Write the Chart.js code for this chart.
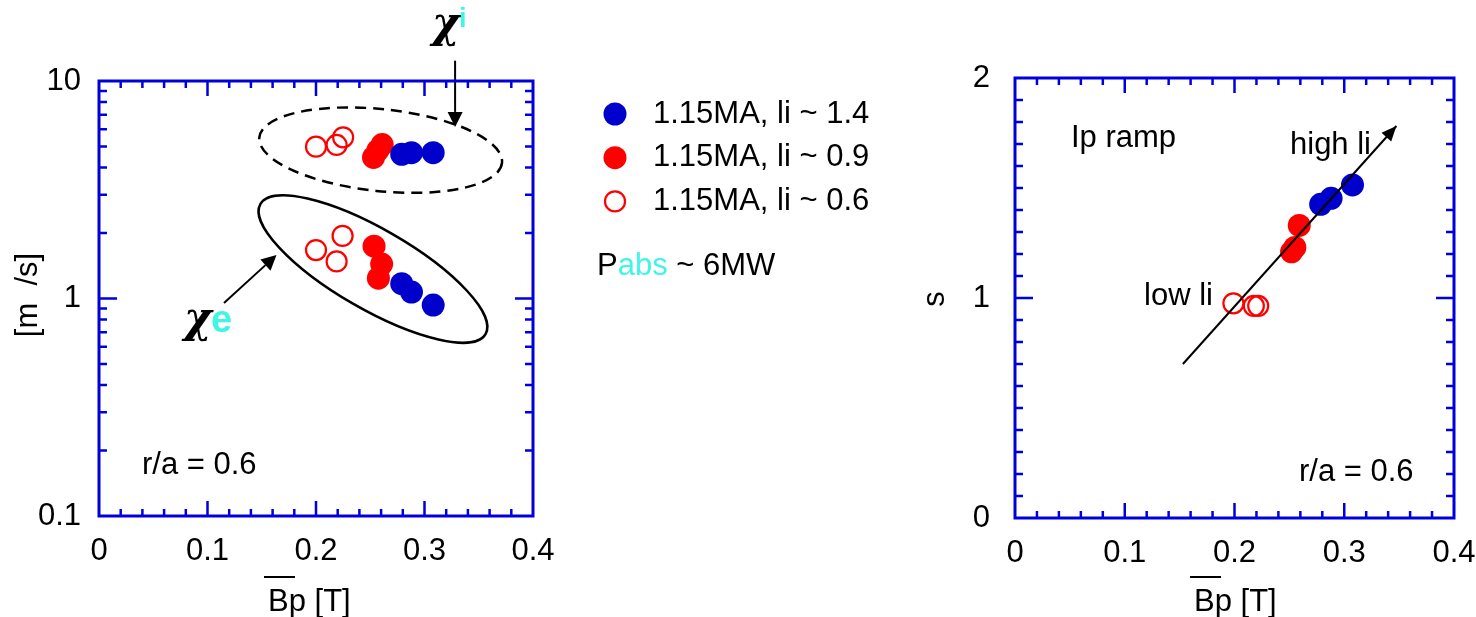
<!DOCTYPE html>
<html>
<head>
<meta charset="utf-8">
<script src="https://cdn.jsdelivr.net/npm/chart.js@4.4.1/dist/chart.umd.min.js"></script>
<style>
  html, body { margin: 0; padding: 0; background: #fff; width: 1476px; height: 617px; overflow: hidden; }
  #left { position: absolute; left: 0; top: 0; }
  #right { position: absolute; left: 900px; top: 0; }
</style>
</head>
<body>
<canvas id="left" width="900" height="617"></canvas>
<canvas id="right" width="576" height="617"></canvas>
<script>
// ---- axis tick labels ----
const bpTicks = [0, 0.1, 0.2, 0.3, 0.4];
const chiTicks = [0.1, 1, 10];
const shearTicks = [0, 1, 2];

const seriesLabels = ['1.15MA, li ~ 1.4', '1.15MA, li ~ 0.9', '1.15MA, li ~ 0.6'];

// ---- left panel: chi_i (upper group) and chi_e (lower group) vs Bp ----
const bpHighLi = [0.279, 0.288, 0.308];
const chiIHighLi = [4.60, 4.68, 4.68];
const chiEHighLi = [1.17, 1.07, 0.933];

const bpMidLiI = [0.253, 0.257, 0.261];
const chiIMidLi = [4.45, 4.80, 5.10];
const bpMidLiE = [0.2535, 0.2605, 0.2575];
const chiEMidLi = [1.74, 1.44, 1.24];

const bpLowLiI = [0.200, 0.219, 0.225];
const chiILowLi = [4.99, 5.08, 5.51];
const bpLowLiE = [0.200, 0.2245, 0.219];
const chiELowLi = [1.67, 1.94, 1.48];

// ---- right panel: magnetic shear s vs Bp ----
const bpHighLiS = [0.2785, 0.288, 0.3075];
const sHighLi = [1.426, 1.453, 1.514];
const bpMidLiS = [0.259, 0.252, 0.255];
const sMidLi = [1.33, 1.21, 1.23];
const bpLowLiS = [0.199, 0.2176, 0.2216];
const sLowLi = [0.976, 0.964, 0.964];

// trend arrow through the shear points (tail, head)
const trendBp = [0.153, 0.3475];
const trendS = [0.70, 1.782];

// ---- styling ----
const SANS = "'Liberation Sans', Arial, sans-serif";
const GREEK = "'DejaVu Serif', 'Liberation Serif', serif";
const BLUE = '#0000cc';
const RED = '#ff0000';
const FRAME = '#0000dd';
const CYAN = '#3ff5e6';
const FS = 31;

Chart.defaults.font.family = SANS;
Chart.defaults.font.size = FS;
Chart.defaults.color = '#000';

const pairs = (xs, ys) => xs.map((v, i) => ({ x: v, y: ys[i] }));

function filledSet(label, color, data) {
  return { label, data, backgroundColor: color, borderColor: color,
           pointRadius: 11.5, pointBorderWidth: 0, pointHoverRadius: 11.5 };
}
function openSet(label, color, data) {
  return { label, data, backgroundColor: 'rgba(0,0,0,0)', borderColor: color,
           pointRadius: 10, pointBorderWidth: 2.2, pointHoverRadius: 10 };
}

// minor / major tick positions for the boxed frame
const bpMinor = [], bpMajor = [0.1, 0.2, 0.3];
for (let i = 1; i < 20; i++) if (i % 5) bpMinor.push(i * 0.02);
const chiMinor = [], chiMajor = [1];
for (let d of [0.1, 1]) for (let m = 2; m <= 9; m++) chiMinor.push(m * d);
const sMinor = [], sMajor = [1];
for (let i = 1; i < 20; i++) if (i !== 10) sMinor.push(i * 0.1);

function framePlugin(xMinor, xMajor, yMinor, yMajor) {
  return {
    id: 'frame',
    afterDraw(chart) {
      const { ctx, chartArea: a, scales: { x, y } } = chart;
      ctx.save();
      ctx.strokeStyle = FRAME;
      ctx.lineWidth = 2.5;
      ctx.beginPath();
      const xt = (v, len) => {
        const p = x.getPixelForValue(v);
        ctx.moveTo(p, a.top); ctx.lineTo(p, a.top + len);
        ctx.moveTo(p, a.bottom); ctx.lineTo(p, a.bottom - len);
      };
      const yt = (v, len) => {
        const p = y.getPixelForValue(v);
        ctx.moveTo(a.left, p); ctx.lineTo(a.left + len, p);
        ctx.moveTo(a.right, p); ctx.lineTo(a.right - len, p);
      };
      xMinor.forEach(v => xt(v, 7));
      xMajor.forEach(v => xt(v, 15));
      yMinor.forEach(v => yt(v, 8));
      yMajor.forEach(v => yt(v, 18));
      ctx.stroke();
      ctx.lineWidth = 3;
      ctx.strokeRect(a.left, a.top, a.right - a.left, a.bottom - a.top);
      ctx.restore();
    }
  };
}

function drawArrow(ctx, x0, y0, x1, y1, head, half, lw) {
  const ang = Math.atan2(y1 - y0, x1 - x0);
  const bx = x1 - head * Math.cos(ang), by = y1 - head * Math.sin(ang);
  ctx.lineWidth = lw;
  ctx.beginPath(); ctx.moveTo(x0, y0); ctx.lineTo(bx, by); ctx.stroke();
  ctx.beginPath();
  ctx.moveTo(x1, y1);
  ctx.lineTo(bx - half * Math.sin(ang), by + half * Math.cos(ang));
  ctx.lineTo(bx + half * Math.sin(ang), by - half * Math.cos(ang));
  ctx.closePath(); ctx.fill();
}

function bpTitle(ctx, left, baseline) {
  ctx.save();
  ctx.fillStyle = '#000'; ctx.strokeStyle = '#000';
  ctx.font = `${FS}px ${SANS}`;
  ctx.textAlign = 'left'; ctx.textBaseline = 'alphabetic';
  ctx.fillText('Bp [T]', left, baseline);
  ctx.lineWidth = 2;
  ctx.beginPath(); ctx.moveTo(left - 4, 577); ctx.lineTo(left + 27, 577); ctx.stroke();
  ctx.restore();
}

function vTitle(ctx, text, cx, cy) {
  ctx.save();
  ctx.translate(cx, cy); ctx.rotate(-Math.PI / 2);
  ctx.font = `${FS}px ${SANS}`; ctx.fillStyle = '#000';
  ctx.textAlign = 'center'; ctx.textBaseline = 'middle';
  ctx.fillText(text, 0, 0);
  ctx.restore();
}

function text(ctx, str, x, y, font, color) {
  ctx.font = font; ctx.fillStyle = color || '#000';
  ctx.textAlign = 'left'; ctx.textBaseline = 'alphabetic';
  ctx.fillText(str, x, y);
}

// ---- left panel annotations: groups, arrows, labels, legend ----
const leftDecor = {
  id: 'leftDecor',
  afterDatasetsDraw(chart) {
    const { ctx, scales: { x, y } } = chart;
    ctx.save();
    ctx.strokeStyle = '#000'; ctx.fillStyle = '#000';
    // chi_i group (dashed)
    ctx.lineWidth = 2.5;
    ctx.setLineDash([11, 7]);
    ctx.beginPath();
    ctx.ellipse(x.getPixelForValue(0.2596), y.getPixelForValue(4.81), 122, 41, 6 * Math.PI / 180, 0, 2 * Math.PI);
    ctx.stroke();
    ctx.setLineDash([]);
    // chi_e group (solid)
    ctx.beginPath();
    ctx.ellipse(x.getPixelForValue(0.2525), y.getPixelForValue(1.366), 130, 40, 30 * Math.PI / 180, 0, 2 * Math.PI);
    ctx.stroke();
    // pointer arrows
    drawArrow(ctx, x.getPixelForValue(0.3282), y.getPixelForValue(12.4),
              x.getPixelForValue(0.3282), y.getPixelForValue(6.15), 15, 7.5, 2);
    drawArrow(ctx, x.getPixelForValue(0.1152), y.getPixelForValue(0.953),
              x.getPixelForValue(0.1636), y.getPixelForValue(1.585), 15, 7.5, 2);
    // chi labels
    text(ctx, 'χ', 432, 37, `italic bold 42px ${GREEK}`);
    text(ctx, 'i', 459, 27, `bold 27px ${SANS}`, CYAN);
    text(ctx, 'χ', 184, 332, `italic bold 42px ${GREEK}`);
    text(ctx, 'e', 211, 332, `bold 38px ${SANS}`, CYAN);
    // radius label
    text(ctx, 'r/a = 0.6', 142, 474, `${FS}px ${SANS}`);
    ctx.restore();

    // legend built from the datasets
    ctx.save();
    chart.data.datasets.forEach((ds, i) => {
      const cy = 114 + i * 43.7;
      ctx.beginPath();
      ctx.arc(615, cy, ds.pointRadius, 0, 2 * Math.PI);
      ctx.fillStyle = ds.backgroundColor; ctx.fill();
      if (ds.pointBorderWidth > 0) {
        ctx.lineWidth = ds.pointBorderWidth; ctx.strokeStyle = ds.borderColor; ctx.stroke();
      }
      text(ctx, ds.label, 653, cy + 8.5, `${FS}px ${SANS}`);
    });
    // absorbed power
    ctx.font = `${FS}px ${SANS}`;
    let px = 597;
    text(ctx, 'P', px, 275, `${FS}px ${SANS}`);
    px += ctx.measureText('P').width;
    text(ctx, 'abs', px, 275, `${FS}px ${SANS}`, CYAN);
    px += ctx.measureText('abs').width;
    text(ctx, ' ~ 6MW', px, 275, `${FS}px ${SANS}`);
    ctx.restore();

    // axis titles
    bpTitle(ctx, 268, 611);
    vTitle(ctx, '[m  /s]', 28, 295);
  }
};

// ---- right panel annotations ----
const rightDecor = {
  id: 'rightDecor',
  afterDatasetsDraw(chart) {
    const { ctx } = chart;
    const pts = chart.getDatasetMeta(0).data;
    ctx.save();
    ctx.fillStyle = '#000'; ctx.strokeStyle = '#000';
    // arrow head at the end of the trend line
    const a = pts[0], b = pts[pts.length - 1];
    const ang = Math.atan2(b.y - a.y, b.x - a.x), head = 15, half = 6.5;
    const bx = b.x - head * Math.cos(ang), by = b.y - head * Math.sin(ang);
    ctx.beginPath();
    ctx.moveTo(b.x, b.y);
    ctx.lineTo(bx - half * Math.sin(ang), by + half * Math.cos(ang));
    ctx.lineTo(bx + half * Math.sin(ang), by - half * Math.cos(ang));
    ctx.closePath(); ctx.fill();

    const f = `${FS}px ${SANS}`;
    text(ctx, 'Ip ramp', 171, 147, f);
    text(ctx, 'high li', 390, 154, f);
    text(ctx, 'low li', 244, 305, f);
    text(ctx, 'r/a = 0.6', 399, 481, f);
    ctx.restore();

    bpTitle(ctx, 294, 611);
    vTitle(ctx, 's', 35, 299);
  }
};

function xScale(height) {
  return {
    type: 'linear', min: 0, max: 0.4,
    afterBuildTicks: s => { s.ticks = bpTicks.map(v => ({ value: v })); },
    afterFit: s => { s.height = height; s.paddingLeft = 0; s.paddingRight = 0; },
    grid: { display: false, drawTicks: false },
    border: { display: false },
    ticks: { padding: 17, maxRotation: 0, autoSkip: false, callback: v => String(v) }
  };
}

function yFit(width) {
  return s => { s.width = width; s.paddingTop = 0; s.paddingBottom = 0; };
}

// ---- left chart ----
new Chart(document.getElementById('left'), {
  type: 'scatter',
  data: {
    datasets: [
      filledSet(seriesLabels[0], BLUE, pairs(bpHighLi, chiIHighLi).concat(pairs(bpHighLi, chiEHighLi))),
      filledSet(seriesLabels[1], RED, pairs(bpMidLiI, chiIMidLi).concat(pairs(bpMidLiE, chiEMidLi))),
      openSet(seriesLabels[2], RED, pairs(bpLowLiI, chiILowLi).concat(pairs(bpLowLiE, chiELowLi)))
    ]
  },
  options: {
    responsive: false, animation: false, events: [],
    layout: { autoPadding: false, padding: { left: 0, top: 81, right: 367, bottom: 0 } },
    plugins: { legend: { display: false }, tooltip: { enabled: false } },
    scales: {
      x: xScale(101),
      y: {
        type: 'logarithmic', min: 0.1, max: 10,
        afterBuildTicks: s => { s.ticks = chiTicks.map(v => ({ value: v })); },
        afterFit: yFit(99),
        grid: { display: false, drawTicks: false },
        border: { display: false },
        ticks: { padding: 18, autoSkip: false, callback: v => String(v) }
      }
    }
  },
  plugins: [framePlugin(bpMinor, bpMajor, chiMinor, chiMajor), leftDecor]
});

// ---- right chart ----
new Chart(document.getElementById('right'), {
  type: 'scatter',
  data: {
    datasets: [
      { type: 'line', label: 'trend', data: pairs(trendBp, trendS), borderColor: '#000',
        borderWidth: 2, pointRadius: 0, fill: false, tension: 0 },
      filledSet(seriesLabels[0], BLUE, pairs(bpHighLiS, sHighLi)),
      filledSet(seriesLabels[1], RED, pairs(bpMidLiS, sMidLi)),
      openSet(seriesLabels[2], RED, pairs(bpLowLiS, sLowLi))
    ]
  },
  options: {
    responsive: false, animation: false, events: [],
    layout: { autoPadding: false, padding: { left: 0, top: 78, right: 22, bottom: 0 } },
    plugins: { legend: { display: false }, tooltip: { enabled: false } },
    scales: {
      x: xScale(99),
      y: {
        type: 'linear', min: 0, max: 2,
        afterBuildTicks: s => { s.ticks = shearTicks.map(v => ({ value: v })); },
        afterFit: yFit(115),
        grid: { display: false, drawTicks: false },
        border: { display: false },
        ticks: { padding: 25, autoSkip: false, callback: v => String(v) }
      }
    }
  },
  plugins: [framePlugin(bpMinor, bpMajor, sMinor, sMajor), rightDecor]
});
</script>
</body>
</html>
